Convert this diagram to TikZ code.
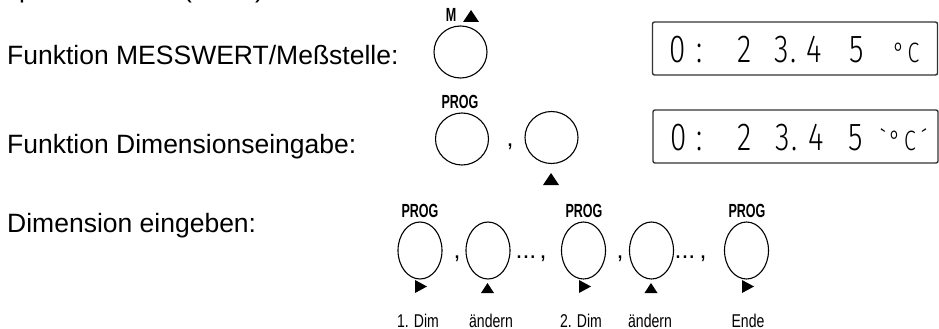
\documentclass[tikz,border=0pt]{standalone}
\usepackage{fontspec}
\setmainfont{Liberation Sans}
\newfontfamily\keyfont[FakeStretch=0.66]{Liberation Sans}
\newfontfamily\capfont[FakeStretch=0.76]{Liberation Sans}
\newfontfamily\lcdfont[FakeStretch=0.76]{Fira Sans Light}
\usetikzlibrary{shapes.geometric}

\begin{document}
\begin{tikzpicture}[x=1pt,y=-1pt,
  lbl/.style={anchor=base west,inner sep=0,font=\fontsize{26.5}{30}\selectfont},
  keyA/.style={ellipse,draw,line width=1.1pt,inner sep=0,minimum width=53,minimum height=52},
  keyB/.style={ellipse,draw,line width=1.1pt,inner sep=0,minimum width=44,minimum height=57},
  tag/.style={inner sep=0,anchor=base,font=\keyfont\bfseries\fontsize{19}{21}\selectfont},
  caption/.style={inner sep=0,anchor=base,font=\capfont\fontsize{18.5}{20}\selectfont},
  sep/.style={inner sep=0,anchor=base,font=\fontsize{25}{27}\selectfont},
  lcd/.style={draw=black!80,line width=1.4pt,rounded corners=2pt,minimum width=285,minimum height=53,inner sep=0},
  dig/.style={inner sep=0,anchor=base,font=\lcdfont\fontsize{39}{41}\selectfont},
  unit/.style={inner sep=0,anchor=base,font=\lcdfont\fontsize{28}{30}\selectfont}]
\useasboundingbox (0,0) rectangle (939,329);

% tail of the preceding line, cut by the page edge
\begin{scope}
  \clip (0,0) rectangle (939,329);
  \node[lbl] (prevp) at (19,-2.5) {p};
  \node[lbl] (prevl) at (183,-2.5) {(};
  \node[lbl] (prevr) at (255,-2.5) {)};
\end{scope}

% ---- row 1: measured value / measuring point
\node[lbl] (t1) at (7,64) {Funktion MESSWERT/Meßstelle:};
\node[keyA] (m) at (460.5,52) {};
\node[tag] (mtag) at (451,22) {M};
\fill (463,22) -- (479,22) -- (471,10) -- cycle;

\node[lcd] (lcd1) at (795,48.5) {};
\foreach \ch/\x [count=\i] in {0/677.5, :/700, 2/744.5, 3/781.5, ./794, 4/814.5, 5/856.5}
  \node[dig] (lcda\i) at (\x,62.5) {\ch};
\node[unit] (deg1) at (899,62.5) {°};
\node[unit] (c1) at (913.5,62.5) {C};

% ---- row 2: dimension input function
\node[lbl] (t2) at (7,153) {Funktion Dimensionseingabe:};
\node[keyA] (p2) at (462,139) {};
\node[tag] (p2tag) at (460,108) {PROG};
\node[sep] (k2sep) at (510,146) {,};
\node[keyA] (u2) at (551.5,137.5) {};
\fill (543,185) -- (559,185) -- (551,173) -- cycle;

\node[lcd] (lcd2) at (795.5,136.5) {};
\foreach \ch/\x [count=\i] in {0/679, :/700, 2/745, 3/782.5, ./795, 4/816, 5/855.5}
  \node[dig] (lcdb\i) at (\x,150.5) {\ch};
\node[unit] (tickl) at (883,150.5) {\symbol{"60}};
\node[unit] (deg2) at (895,150.5) {°};
\node[unit] (c2) at (910,150.5) {C};
\node[unit] (tickr) at (924,150.5) {\symbol{"B4}};

% ---- row 3: entering the dimension
\node[lbl] (t3) at (7,232) {Dimension eingeben:};
\node[keyB] (d1) at (420,250.5) {};
\node[keyB] (d2) at (488,250.5) {};
\node[keyB] (d3) at (583.5,250.5) {};
\node[keyB] (d4) at (651.5,250.5) {};
\node[keyB] (d5) at (746.5,250.5) {};
\node[tag] (d1tag) at (420,217) {PROG};
\node[tag] (d3tag) at (584,217) {PROG};
\node[tag] (d5tag) at (747,217) {PROG};
\node[sep] (s1) at (457,258) {,};
\node[sep] (s2) at (526,258) {...};
\node[sep] (s3) at (543,258) {,};
\node[sep] (s4) at (620,258) {,};
\node[sep] (s5) at (685,258) {...};
\node[sep] (s6) at (703,258) {,};
% arrow marks under the keys
\foreach \x in {421,585,748}
  \fill (\x-6,280) -- (\x-6,293) -- (\x+6,286.5) -- cycle;
\foreach \x in {487.5,651}
  \fill (\x-6.5,293) -- (\x+6.5,293) -- (\x,283) -- cycle;
\node[caption] (l1) at (418,327) {1. Dim};
\node[caption] (l2) at (491,327) {ändern};
\node[caption] (l3) at (581,327) {2. Dim};
\node[caption] (l4) at (650,327) {ändern};
\node[caption] (l5) at (748,327) {Ende};
\end{tikzpicture}
\end{document}
